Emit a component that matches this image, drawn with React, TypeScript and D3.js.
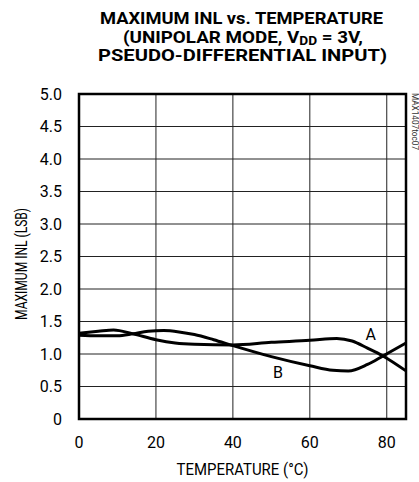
import React from "react";
import * as d3 from "d3";

const seriesA: [number, number][] = [
  [0, 1.32], [5, 1.35], [9, 1.37], [14, 1.31], [20, 1.22], [25, 1.17], [30, 1.15],
  [40, 1.14], [50, 1.18], [60, 1.21], [67, 1.24], [71, 1.2], [75, 1.09], [79, 0.97], [85, 0.74],
];
const seriesB: [number, number][] = [
  [0, 1.29], [5, 1.28], [10, 1.28], [14, 1.31], [18, 1.35], [22, 1.36], [26, 1.34], [30, 1.3],
  [35, 1.22], [40, 1.13], [50, 0.96], [60, 0.82], [66, 0.75], [70, 0.74], [75, 0.84], [79, 0.97], [85, 1.17],
];
const xTicks = [0, 20, 40, 60, 80];
const yTicks = [0, 0.5, 1, 1.5, 2, 2.5, 3, 3.5, 4, 4.5, 5];
const labels = [
  { text: "A", x: 75.8, y: 1.3 },
  { text: "B", x: 51.7, y: 0.71 },
];

const FONT = "'Liberation Sans Narrow', 'Roboto', 'DejaVu Sans Condensed', sans-serif";

export default function App() {
  const W = 419, H = 482;
  const x = d3.scaleLinear().domain([0, 85]).range([79, 406]);
  const y = d3.scaleLinear().domain([0, 5]).range([419, 94]);
  const line = d3
    .line<[number, number]>()
    .x((d) => x(d[0]))
    .y((d) => y(d[1]))
    .curve(d3.curveMonotoneX);

  return (
    <svg width={W} height={H} style={{ position: "absolute", left: 0, top: 0, background: "#fff" }}>
      <rect x={0} y={0} width={W} height={H} fill="#fff" />
      {/* title */}
      <g fontFamily={FONT} fontWeight="bold" fontSize={16.5} textAnchor="middle" fill="#000">
        <text x={241.5} y={24} textLength={283} lengthAdjust="spacingAndGlyphs">
          MAXIMUM INL vs. TEMPERATURE
        </text>
        <text x={243} y={42.5} textLength={240} lengthAdjust="spacingAndGlyphs">
          (UNIPOLAR MODE, V<tspan fontSize={12} dy={2}>DD</tspan>
          <tspan dy={-2}> = 3V,</tspan>
        </text>
        <text x={242.5} y={61} textLength={289} lengthAdjust="spacingAndGlyphs">
          PSEUDO-DIFFERENTIAL INPUT)
        </text>
      </g>
      {/* grid */}
      <g stroke="#222" strokeWidth={1}>
        {xTicks.filter((t) => t > 0).map((t) => (
          <line key={"vx" + t} x1={x(t)} x2={x(t)} y1={y(0)} y2={y(5)} />
        ))}
        {yTicks.filter((t) => t > 0 && t < 5).map((t) => (
          <line key={"hy" + t} x1={x(0)} x2={x(85)} y1={y(t)} y2={y(t)} />
        ))}
      </g>
      {/* curves */}
      <path d={line(seriesA) || ""} fill="none" stroke="#000" strokeWidth={3} />
      <path d={line(seriesB) || ""} fill="none" stroke="#000" strokeWidth={3} />
      {/* frame */}
      <rect x={x(0)} y={y(5)} width={x(85) - x(0)} height={y(0) - y(5)} fill="none" stroke="#000" strokeWidth={2.5} />
      {/* curve labels */}
      <g fontFamily={FONT} fontSize={16} textAnchor="middle" fill="#000">
        {labels.map((l) => (
          <text key={l.text} x={x(l.x)} y={y(l.y)} dy="0.35em">
            {l.text}
          </text>
        ))}
      </g>
      {/* y ticks */}
      <g fontFamily={FONT} fontSize={16} textAnchor="end" fill="#000">
        {yTicks.map((t) => (
          <text key={"yt" + t} x={62} y={y(t)} dy="0.36em">
            {t === 0 ? "0" : t.toFixed(1)}
          </text>
        ))}
      </g>
      {/* x ticks */}
      <g fontFamily={FONT} fontSize={16} textAnchor="middle" fill="#000">
        {xTicks.map((t) => (
          <text key={"xt" + t} x={x(t)} y={448}>
            {t}
          </text>
        ))}
      </g>
      {/* axis titles */}
      <text x={242.5} y={475} fontFamily={FONT} fontSize={16} textAnchor="middle" textLength={132} lengthAdjust="spacingAndGlyphs">
        TEMPERATURE (°C)
      </text>
      <text
        transform={`translate(27,264) rotate(-90)`}
        fontFamily={FONT}
        fontSize={16}
        textAnchor="middle"
        textLength={112}
        lengthAdjust="spacingAndGlyphs"
      >
        MAXIMUM INL (LSB)
      </text>
      <text
        transform={`translate(412,121.5) rotate(90)`}
        fontFamily={FONT}
        fontSize={9}
        textAnchor="middle"
        textLength={57}
        lengthAdjust="spacingAndGlyphs"
        fill="#333"
      >
        MAX1407toc07
      </text>
    </svg>
  );
}
